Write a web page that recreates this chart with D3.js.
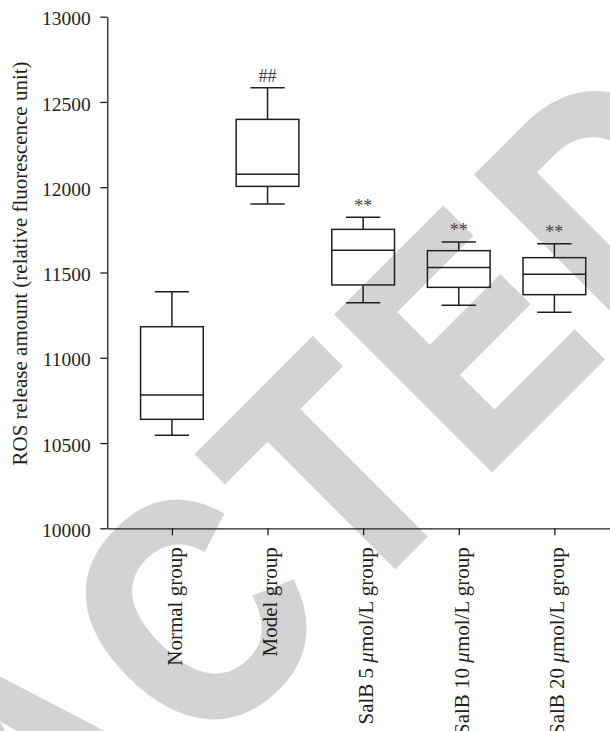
<!DOCTYPE html>
<html>
<head>
<meta charset="utf-8">
<script src="https://cdn.jsdelivr.net/npm/d3@7"></script>
<style>
  html, body { margin: 0; padding: 0; background: #fff; }
  svg { display: block; }
</style>
</head>
<body>
<svg id="chart" width="610" height="731"></svg>
<script>
// Groups along the x axis
const categories = ["Normal group", "Model group", "SalB 5 μmol/L group", "SalB 10 μmol/L group", "SalB 20 μmol/L group"];
// Box-plot statistics per group (relative fluorescence units)
const whiskerLow  = [10545, 11902, 11323, 11308, 11267];
const quartile1   = [10639, 12005, 11427, 11413, 11370];
const medians     = [10782, 12076, 11630, 11530, 11490];
const quartile3   = [11182, 12398, 11753, 11628, 11587];
const whiskerHigh = [11387, 12584, 11824, 11679, 11669];
// Significance marks above each box
const sigMarks = ["", "##", "**", "**", "**"];
// Y axis ticks
const yTicks = [10000, 10500, 11000, 11500, 12000, 12500, 13000];
const yTitle = "ROS release amount (relative fluorescence unit)";
const stampText = "RETRACTED";

const svg = d3.select("#chart");
const ink = "#231f20";
const serif = "'Liberation Serif', 'Times New Roman', serif";

// Background stamp on a 45° diagonal, slightly condensed and tracked out
const stampSize = 313, stampTrack = 18.4;
const stamp = svg.append("g").attr("transform", "rotate(-45) scale(0.87,1)");
const stampLabel = stamp.append("text")
  .attr("y", 678)
  .attr("font-family", "'Liberation Sans', Arial, sans-serif")
  .attr("font-weight", "bold")
  .attr("font-size", stampSize)
  .attr("fill", "#d3d3d3")
  .attr("stroke", "#d3d3d3")
  .attr("stroke-width", 8)
  .text(stampText);
// "RETRA" precedes the C, whose origin sits at -455
const lead = stampLabel.node().getSubStringLength(0, 5) + 5 * stampTrack;
stampLabel.attr("letter-spacing", stampTrack).attr("x", -455 - lead);

// Scales
const y = d3.scaleLinear().domain([10000, 13000]).range([528.3, 16.7]);
const x = d3.scalePoint().domain(categories).range([107.3, 619]).padding(0.676);

// Y axis
const yAxis = svg.append("g")
  .attr("transform", "translate(107.3,0)")
  .call(d3.axisLeft(y).tickValues(yTicks).tickSize(7).tickPadding(9.5).tickSizeOuter(0).tickFormat(d3.format("d")));
yAxis.select(".domain").attr("stroke", ink).attr("stroke-width", 1.3);
yAxis.selectAll(".tick line").attr("stroke", ink).attr("stroke-width", 1.3);
yAxis.selectAll(".tick text")
  .attr("font-family", serif).attr("font-size", 19.5).attr("fill", ink).attr("dy", "0.42em");

// X axis
const xAxis = svg.append("g")
  .attr("transform", "translate(0,528.3)")
  .call(d3.axisBottom(x).tickSize(7).tickSizeOuter(0));
xAxis.select(".domain").attr("stroke", ink).attr("stroke-width", 1.3);
xAxis.selectAll(".tick line").attr("stroke", ink).attr("stroke-width", 1.3);
xAxis.selectAll(".tick text").remove();
xAxis.selectAll(".tick").append("text")
  .attr("transform", "rotate(-90)")
  .attr("x", -19)
  .attr("y", 0)
  .attr("dy", "0.45em")
  .attr("text-anchor", "end")
  .attr("font-family", serif)
  .attr("font-size", 21)
  .attr("fill", ink)
  .each(function(d) {
    const t = d3.select(this);
    const parts = d.split("μ");
    t.append("tspan").text(parts[0]);
    if (parts.length > 1) {
      t.append("tspan").attr("font-style", "italic").text("μ");
      t.append("tspan").text(parts[1]);
    }
  });

// Y axis title
svg.append("text")
  .attr("transform", "translate(27,263.5) rotate(-90)")
  .attr("text-anchor", "middle")
  .attr("font-family", serif)
  .attr("font-size", 21)
  .attr("fill", ink)
  .text(yTitle);

// Box plots
const boxW = 62.7, capW = 34.3;
const boxes = svg.append("g").attr("stroke", ink).attr("stroke-width", 1.5).attr("fill", "none");
categories.forEach((c, i) => {
  const cx = x(c);
  const g = boxes.append("g");
  g.append("line").attr("x1", cx).attr("x2", cx).attr("y1", y(whiskerHigh[i])).attr("y2", y(quartile3[i]));
  g.append("line").attr("x1", cx).attr("x2", cx).attr("y1", y(quartile1[i])).attr("y2", y(whiskerLow[i]));
  g.append("line").attr("x1", cx - capW / 2).attr("x2", cx + capW / 2).attr("y1", y(whiskerHigh[i])).attr("y2", y(whiskerHigh[i]));
  g.append("line").attr("x1", cx - capW / 2).attr("x2", cx + capW / 2).attr("y1", y(whiskerLow[i])).attr("y2", y(whiskerLow[i]));
  g.append("rect").attr("x", cx - boxW / 2).attr("width", boxW)
    .attr("y", y(quartile3[i])).attr("height", y(quartile1[i]) - y(quartile3[i]));
  g.append("line").attr("x1", cx - boxW / 2).attr("x2", cx + boxW / 2).attr("y1", y(medians[i])).attr("y2", y(medians[i]));
});

// Significance marks
svg.append("g").selectAll("text")
  .data(categories)
  .join("text")
  .attr("x", d => x(d))
  .attr("y", (d, i) => y(whiskerHigh[i]) - 5.5)
  .attr("text-anchor", "middle")
  .attr("font-family", serif)
  .attr("font-size", 18)
  .attr("fill", "#444")
  .text((d, i) => sigMarks[i]);
</script>
</body>
</html>
